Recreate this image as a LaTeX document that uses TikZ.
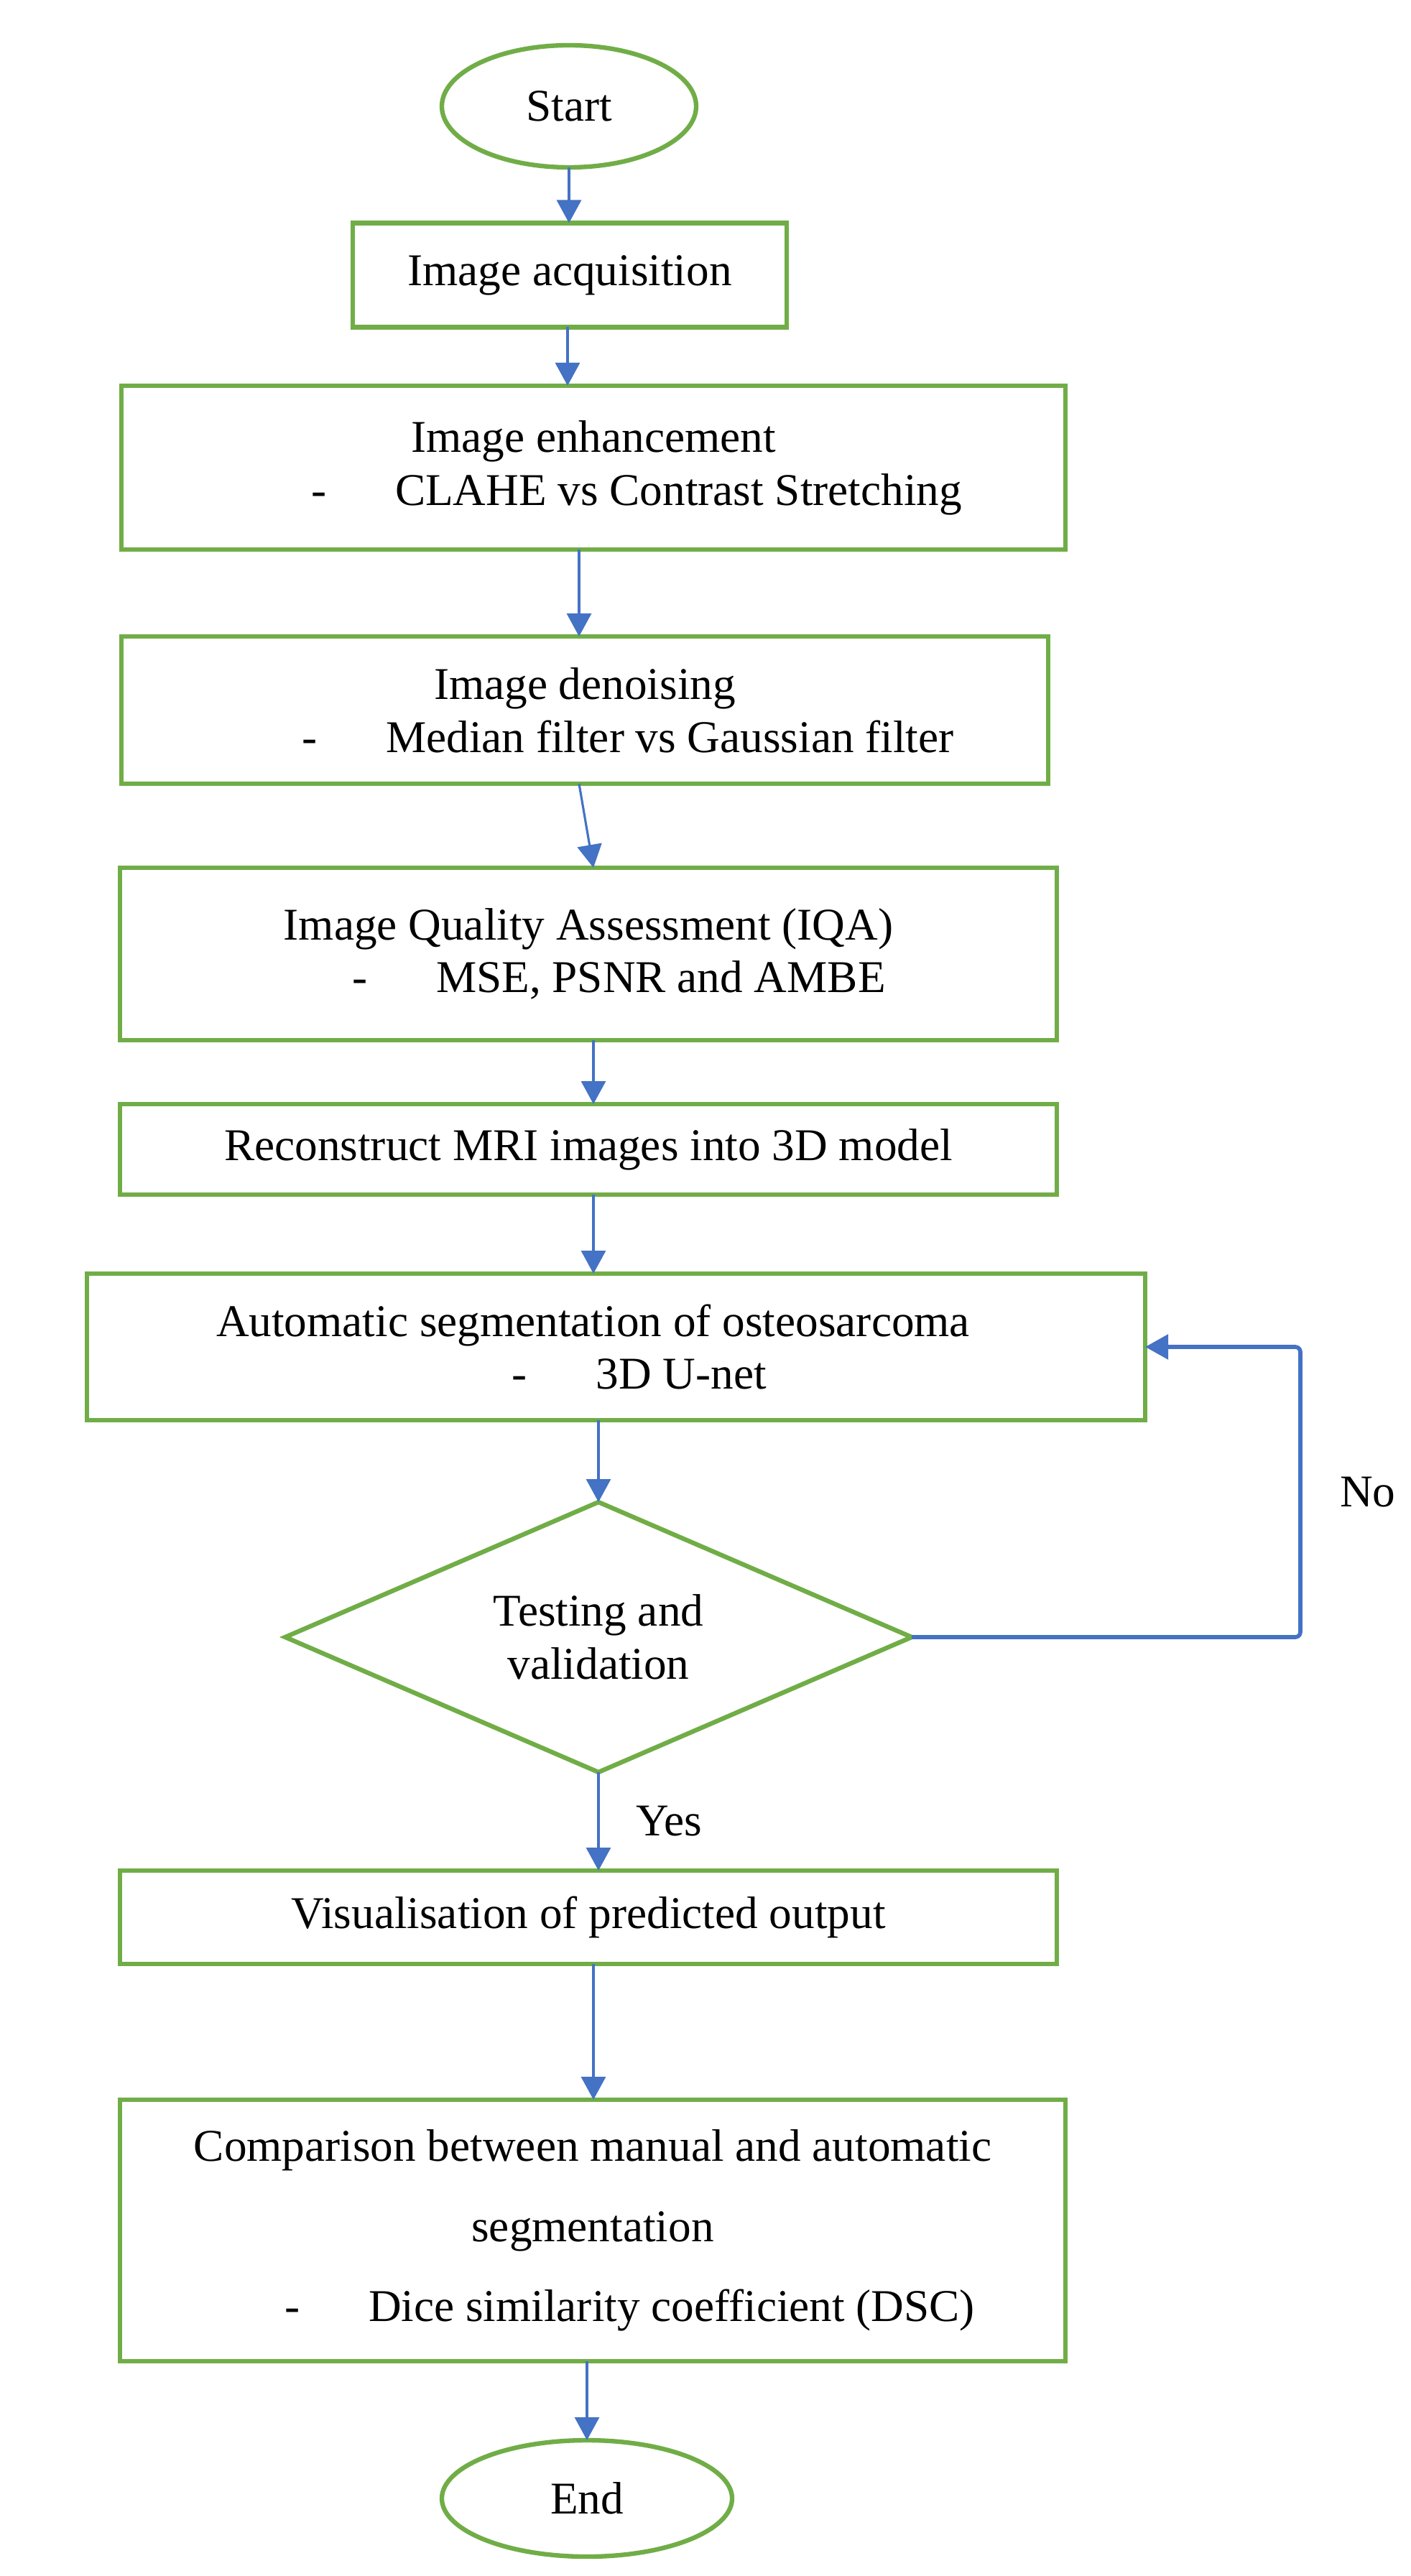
\documentclass[tikz,border=0pt]{standalone}
\usepackage{fontspec}
\setmainfont{Liberation Serif}
\usetikzlibrary{shapes.geometric,arrows.meta,positioning}
\definecolor{boxgreen}{HTML}{70AD47}
\definecolor{flowblue}{HTML}{4472C4}
\newcommand{\dashitem}[2]{\makebox[0pt][l]{\hspace*{#1}-\hspace{0.96cm}#2}}

\begin{document}
\begin{tikzpicture}[inner sep=0pt,outer sep=0pt,font=\fontsize{18}{21}\selectfont,
procbox/.style={draw=boxgreen,rectangle,line width=1.8pt,align=center},
termbox/.style={draw=boxgreen,ellipse,line width=1.8pt},
decbox/.style={draw=boxgreen,diamond,aspect=2.3,line width=1.8pt,align=center},
flow/.style={draw=flowblue,line width=0.9pt,-{Triangle[width=0.34cm,length=0.32cm]}},
loopflow/.style={flow,line width=1.6pt,rounded corners=2pt}]

\useasboundingbox (0,0) rectangle (19.63,-35.86);

\draw (7.92,-1.48) node[termbox,minimum width=3.54cm,minimum height=1.70cm] (start) {Start};
\draw (7.93,-3.83) node[procbox,minimum width=6.04cm,minimum height=1.45cm] (acq) {Image acquisition};
\draw (8.26,-6.51) node[procbox,minimum width=13.14cm,minimum height=2.28cm] (enh)
  {Image enhancement\\ \dashitem{-3.93cm}{CLAHE vs Contrast Stretching}};
\draw (8.14,-9.885) node[procbox,minimum width=12.90cm,minimum height=2.05cm] (den)
  {Image denoising\\ \dashitem{-3.94cm}{Median filter vs Gaussian filter}};
\draw (8.19,-13.28) node[procbox,minimum width=13.04cm,minimum height=2.40cm] (iqa)
  {Image Quality Assessment (IQA)\\ \dashitem{-3.29cm}{MSE, PSNR and AMBE}};
\draw (8.19,-16.0) node[procbox,minimum width=13.04cm,minimum height=1.26cm] (recon) {Reconstruct MRI images into 3D model};
\draw (8.575,-18.75) node[procbox,minimum width=14.73cm,minimum height=2.04cm] (auto)
  {Automatic segmentation of osteosarcoma\kern0.64cm\\ \dashitem{-1.45cm}{3D U-net}};
\draw (8.33,-22.79) node[decbox,minimum width=8.72cm,minimum height=3.76cm] (test) {Testing and\\validation};
\draw (8.19,-26.69) node[procbox,minimum width=13.04cm,minimum height=1.30cm] (vis) {Visualisation of predicted output};
\draw (8.25,-31.05) node[procbox,minimum width=13.16cm,minimum height=3.64cm] (comp)
  {Comparison between manual and automatic\\[0.38cm]segmentation\\[0.38cm]\dashitem{-4.29cm}{Dice similarity coefficient (DSC)}};
\draw (8.17,-34.78) node[termbox,minimum width=4.04cm,minimum height=1.62cm] (stop) {End};

% columns of the arrows
\coordinate (colA) at (7.90,0);
\coordinate (colB) at (8.06,0);
\coordinate (colC) at (8.26,0);
\coordinate[right=2.16cm of auto.east] (noturn);

\draw[flow] (start.south) -- (start.south |- acq.north);
\draw[flow] (acq.south -| colA) -- (enh.north -| colA);
\draw[flow] (enh.south -| colB) -- (den.north -| colB);
\draw[flow] (den.south -| colB) -- (iqa.north -| colC);
\draw[flow] (iqa.south -| colC) -- (recon.north -| colC);
\draw[flow] (recon.south -| colC) -- (auto.north -| colC);
\draw[flow] (auto.south -| test.north) -- (test.north);
\draw[flow] (test.south) -- (test.south |- vis.north) node[midway,right=0.52cm] {Yes};
\draw[flow] (vis.south -| colC) -- (comp.north -| colC);
\draw[flow] (comp.south -| stop.north) -- (stop.north);

\draw[loopflow] (test.east) -| node[pos=0.75,right=0.55cm] {No} (noturn) -- (auto.east);

\end{tikzpicture}
\end{document}
